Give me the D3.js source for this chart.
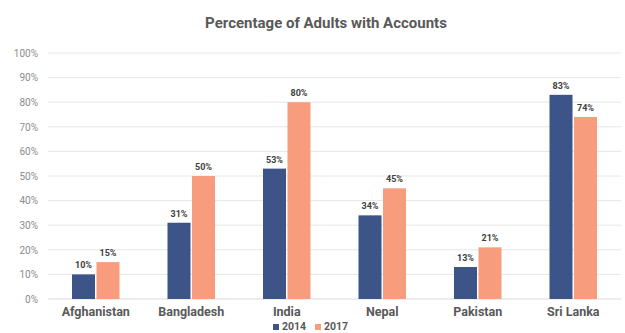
<!DOCTYPE html>
<html>
<head>
<meta charset="utf-8">
<script src="https://cdn.jsdelivr.net/npm/d3@7"></script>
<style>
  body { margin: 0; background: #fff; }
  svg { font-family: Roboto, "Noto Sans", sans-serif; }
</style>
</head>
<body>
<div id="chartContainer"></div>
<script>
// Data
const countries = ["Afghanistan", "Bangladesh", "India", "Nepal", "Pakistan", "Sri Lanka"];
const years = ["2014", "2017"];
const values2014 = [10, 31, 53, 34, 13, 83];
const values2017 = [15, 50, 80, 45, 21, 74];
const yTicks = [0, 10, 20, 30, 40, 50, 60, 70, 80, 90, 100];

const colors = { "2014": "#3c5488", "2017": "#f79d7e" };

const data = countries.map((c, i) => ({
  country: c,
  values: [
    { year: "2014", value: values2014[i] },
    { year: "2017", value: values2017[i] }
  ]
}));

const totalW = 625, totalH = 333;
const margin = { top: 53, right: 4, bottom: 34, left: 48 };
const width = totalW - margin.left - margin.right;
const height = totalH - margin.top - margin.bottom;

const svg = d3.select("#chartContainer")
  .append("svg")
  .attr("width", totalW)
  .attr("height", totalH);

// Title
svg.append("text")
  .attr("x", 326)
  .attr("y", 28)
  .attr("text-anchor", "middle")
  .attr("font-size", "15px")
  .attr("font-weight", "bold")
  .attr("fill", "#595959")
  .text("Percentage of Adults with Accounts");

const g = svg.append("g")
  .attr("transform", `translate(${margin.left}, ${margin.top})`);

const xScale = d3.scaleBand().domain(countries).range([0, width]).padding(0);
const xInner = d3.scaleBand().domain(years).range([24, xScale.bandwidth() - 24]).paddingInner(0.06);
const yScale = d3.scaleLinear().domain([0, 100]).range([height, 0]);

// Gridlines
g.append("g")
  .selectAll("line")
  .data(yTicks)
  .enter()
  .append("line")
  .attr("x1", 0)
  .attr("x2", width)
  .attr("y1", d => yScale(d))
  .attr("y2", d => yScale(d))
  .attr("stroke", d => d === 0 ? "#d9d9d9" : "#e6e6e6")
  .attr("stroke-width", 1);

// Y axis
const yAxis = g.append("g")
  .call(d3.axisLeft(yScale).tickValues(yTicks).tickFormat(d => d + "%").tickSize(0).tickPadding(10));
yAxis.select(".domain").remove();
yAxis.selectAll("text")
  .attr("font-family", "Roboto, sans-serif")
  .attr("font-size", "10px")
  .attr("fill", "#8c8c8c");

// Bars
const groups = g.selectAll(".country")
  .data(data)
  .enter()
  .append("g")
  .attr("class", "country")
  .attr("transform", d => `translate(${xScale(d.country)}, 0)`);

groups.selectAll("rect")
  .data(d => d.values)
  .enter()
  .append("rect")
  .attr("x", d => xInner(d.year))
  .attr("y", d => yScale(d.value))
  .attr("width", xInner.bandwidth())
  .attr("height", d => height - yScale(d.value))
  .attr("fill", d => colors[d.year]);

groups.selectAll(".lbl")
  .data(d => d.values)
  .enter()
  .append("text")
  .attr("class", "lbl")
  .attr("x", d => xInner(d.year) + xInner.bandwidth() / 2)
  .attr("y", d => yScale(d.value) - 6)
  .attr("text-anchor", "middle")
  .attr("font-size", "9px")
  .attr("font-weight", "bold")
  .attr("fill", "#404040")
  .text(d => d.value + "%");

// X axis
const xAxis = g.append("g")
  .attr("transform", `translate(0, ${height})`)
  .call(d3.axisBottom(xScale).tickSize(0).tickPadding(8));
xAxis.select(".domain").remove();
xAxis.selectAll("text")
  .attr("font-family", "Roboto, sans-serif")
  .attr("font-size", "12.5px")
  .attr("font-weight", "bold")
  .attr("fill", "#595959");

// Legend
const legend = svg.append("g").attr("transform", "translate(273, 330)");
years.forEach((y, i) => {
  const lg = legend.append("g").attr("transform", `translate(${i * 42}, 0)`);
  lg.append("rect")
    .attr("x", 0)
    .attr("y", -6)
    .attr("width", 6)
    .attr("height", 6)
    .attr("fill", colors[y]);
  lg.append("text")
    .attr("x", 9)
    .attr("y", 0)
    .attr("font-size", "10.5px")
    .attr("font-weight", "bold")
    .attr("fill", "#595959")
    .text(y);
});
</script>
</body>
</html>
